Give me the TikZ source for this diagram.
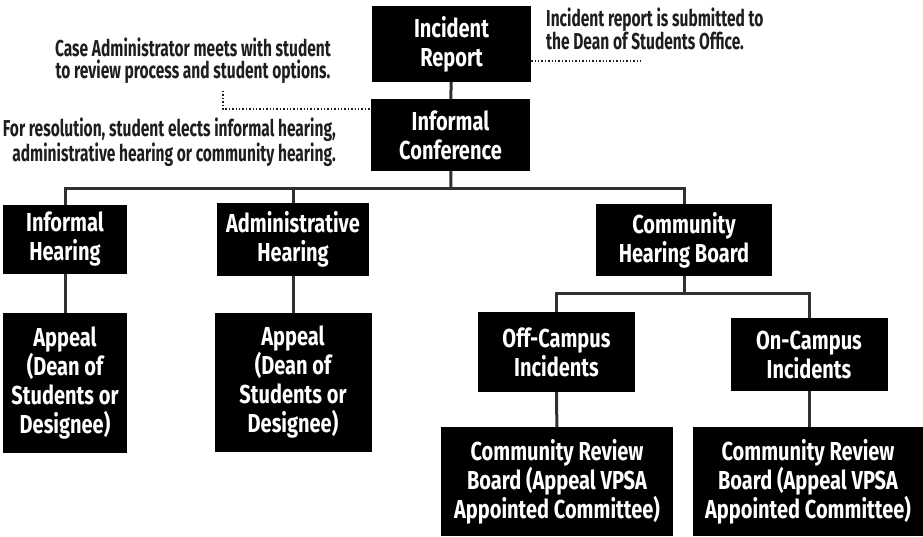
\documentclass[tikz,border=0pt]{standalone}
\usepackage{fontspec}
\setmainfont{Fira Sans}
\newfontfamily\boxfont[FakeStretch=0.77]{Fira Sans}
\newfontfamily\notefont[FakeStretch=0.675]{Fira Sans}
\definecolor{lineGr}{HTML}{303030}
\definecolor{noteGr}{HTML}{1E1E1E}

\begin{document}
\begin{tikzpicture}[x=1pt,y=-1pt,
    flowBk/.style={rectangle,fill=black,text=white,align=center,inner sep=0pt,font=\boxfont\bfseries\fontsize{26}{29}\selectfont},
    flowLn/.style={draw=lineGr,line width=3pt},
    noteTx/.style={text=noteGr,inner sep=0pt,font=\notefont\bfseries\fontsize{23}{22}\selectfont},
    noteLn/.style={draw=noteGr,line width=1.4pt,dotted},
]
\useasboundingbox (0,0) rectangle (923,536);
\node[flowBk,minimum width=159,minimum height=76] (IR) at (451.5,44) {Incident\\Report};
\node[flowBk,minimum width=159,minimum height=72] (IC) at (450.5,135) {Informal\\Conference};
\node[flowBk,minimum width=124,minimum height=69] (IH) at (65,239.5) {Informal\\Hearing};
\node[flowBk,minimum width=152,minimum height=73] (AH) at (293,239.5) {Administrative\\Hearing};
\node[flowBk,minimum width=176,minimum height=72] (CHB) at (684,240) {Community\\Hearing Board};
\node[flowBk,minimum width=124,minimum height=140] (AP1) at (65,383) {Appeal\\(Dean of\\Students or\\Designee)};
\node[flowBk,minimum width=157,minimum height=139] (AP2) at (293,382.5) {Appeal\\(Dean of\\Students or\\Designee)};
\node[flowBk,minimum width=157,minimum height=80] (OFF) at (556.5,352) {Off-Campus\\Incidents};
\node[flowBk,minimum width=157,minimum height=73] (ON) at (809,354.5) {On-Campus\\Incidents};
\node[flowBk,minimum width=232,minimum height=109] (CRB1) at (557,481.5) {Community Review\\Board (Appeal VPSA\\Appointed Committee)};
\node[flowBk,minimum width=231,minimum height=109] (CRB2) at (808,481.5) {Community Review\\Board (Appeal VPSA\\Appointed Committee)};
% notes
\node[noteTx,align=left,anchor=west] (N1) at (546,29) {Incident report is submitted to\\the Dean of Students Office.};
\node[noteTx,align=center] (N2) at (193,61) {Case Administrator meets with student\\to review process and student options.};
\node[noteTx,align=right,anchor=east] (N3) at (336,142) {For resolution, student elects informal hearing,\\administrative hearing or community hearing.};
\coordinate (n1end) at (643,61);
\coordinate (n2top) at (223,91);
\coordinate (n2bend) at (223,109);
\draw[noteLn] (n1end -| IR.east) -- (n1end);
\draw[noteLn] (n2top) -- (n2bend) -- (n2bend -| IC.west);
% tree lines
\coordinate (bus) at (451,188);
\coordinate (sub) at (684,293);
\draw[flowLn] (IR) -- (IC);
\draw[flowLn] (IC) -- (bus);
\draw[flowLn] (IH.north) |- (bus) -| (CHB.north);
\draw[flowLn] (AH.north) -- (AH.north |- bus);
\draw[flowLn] (IH) -- (AP1);
\draw[flowLn] (AH) -- (AP2);
\draw[flowLn] (CHB) -- (sub);
\draw[flowLn] (OFF.north) |- (sub) -| (ON.north);
\draw[flowLn] (OFF) -- (CRB1);
\draw[flowLn] (ON.south) -- (ON.south |- CRB2.north);
\end{tikzpicture}
\end{document}
